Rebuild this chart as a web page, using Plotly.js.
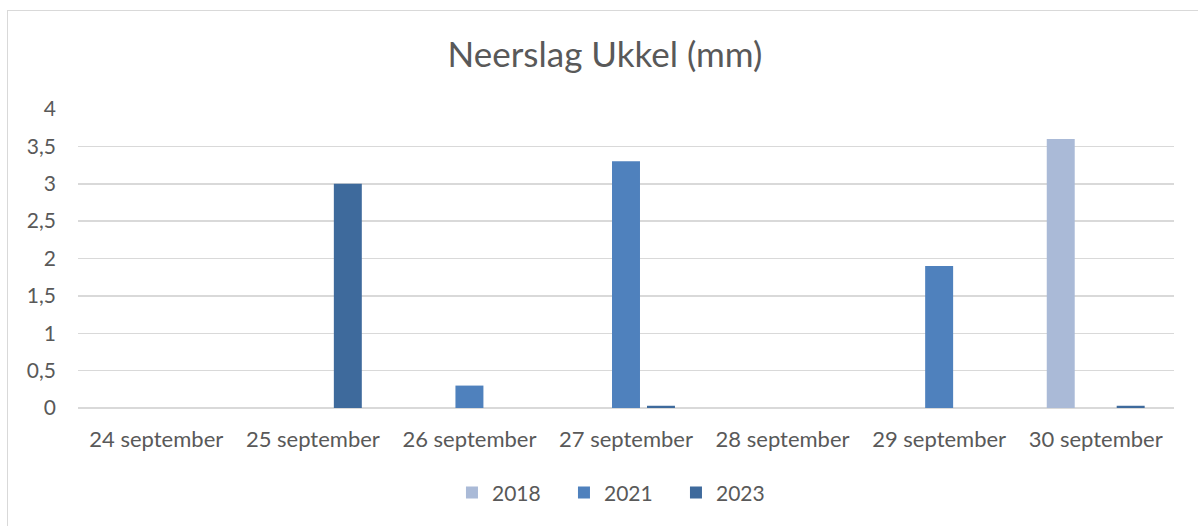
<!DOCTYPE html>
<html>
<head>
<meta charset="utf-8">
<script src="https://cdn.plot.ly/plotly-3.0.1.min.js"></script>
<style>
html,body{margin:0;padding:0;background:#fff;overflow:hidden;}
#frame{position:absolute;left:7px;top:10px;width:1300px;height:700px;border:1px solid #d9d9d9;box-sizing:border-box;}
#chart{position:absolute;left:0;top:0;width:1198px;height:526px;}
</style>
</head>
<body>
<div id="frame"></div>
<div id="chart"></div>
<script>
const categories = ["24 september","25 september","26 september","27 september","28 september","29 september","30 september"];
const seriesNames = ["2018","2021","2023"];
const values2018 = [0, 0, 0, 0, 0, 0, 3.6];
const values2021 = [0, 0, 0.3, 3.3, 0, 1.9, 0];
const values2023 = [0, 3, 0, 0.03, 0, 0, 0.03];
const colors = ["#AABAD7", "#4F81BD", "#3E6A9C"];

const allValues = [values2018, values2021, values2023];
const traces = allValues.map((v, i) => ({
  type: "bar",
  name: seriesNames[i],
  x: categories,
  y: v,
  marker: {color: colors[i]},
  hoverinfo: "x+y+name"
}));

const layout = {
  width: 1198, height: 526,
  paper_bgcolor: "rgba(0,0,0,0)",
  plot_bgcolor: "rgba(0,0,0,0)",
  separators: ",.",
  font: {family: "Lato, 'Open Sans', sans-serif", color: "#595959", size: 22},
  title: {text: "Neerslag Ukkel (mm)", font: {size: 35, color: "#595959"}, x: 0.505, xanchor: "center", y: 0.895, yanchor: "middle"},
  margin: {l: 78, r: 24, t: 109, b: 118},
  barmode: "group",
  bargap: 0.33,
  bargroupgap: 0.2,
  xaxis: {
    showgrid: false, showline: false, zeroline: false,
    ticks: "", ticklabelstandoff: 16,
    tickfont: {size: 22, color: "#595959"}
  },
  yaxis: {
    range: [0, 4], dtick: 0.5, tick0: 0,
    showgrid: true, gridcolor: "#d9d9d9", gridwidth: 1.5,
    zeroline: true, zerolinecolor: "#d9d9d9", zerolinewidth: 1.5,
    showline: false, ticks: "", ticklabelstandoff: 21,
    tickfont: {size: 21, color: "#595959"}
  },
  legend: {
    orientation: "h", x: 0.4945, xanchor: "center", y: -0.284, yanchor: "middle",
    font: {size: 21, color: "#595959"}, itemwidth: 30, traceorder: "normal",
    entrywidth: 67, entrywidthmode: "pixels"
  },
  showlegend: true
};

Plotly.newPlot("chart", traces, layout, {displayModeBar: false, staticPlot: true});
</script>
</body>
</html>
